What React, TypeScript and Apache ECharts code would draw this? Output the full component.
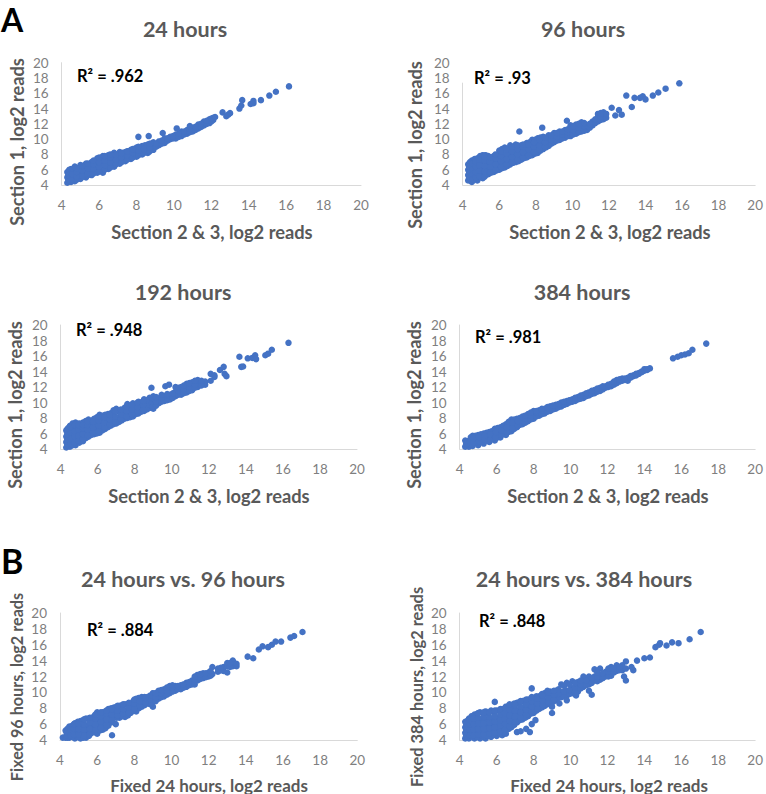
import React, { useEffect, useRef } from "react";
import * as echarts from "echarts";

// Each row: x followed by the y values read at that x.
const hours24: number[][] = [
  [4.3, 4.3, 5.0, 5.7], [4.5, 4.4, 5.1, 5.8, 6.1], [4.7, 4.5, 5.2, 5.9, 6.4], [5.0, 4.8, 5.4, 6.0, 6.6],
  [5.3, 5.0, 5.7, 6.3, 6.8], [5.6, 5.3, 5.9, 6.5, 7.0], [5.9, 5.6, 6.2, 6.8, 7.5], [6.2, 5.6, 6.4, 7.1, 7.8],
  [6.5, 6.1, 6.8, 7.4, 7.9], [6.8, 6.4, 7.0, 7.6, 8.2], [7.1, 6.8, 7.4, 8.0, 8.3], [7.4, 7.1, 7.7, 8.3],
  [7.7, 7.4, 8.0, 8.6], [8.0, 7.7, 8.3, 8.9], [8.3, 8.0, 8.5, 9.1], [8.6, 8.2, 8.8, 9.3], [8.9, 8.6, 9.1, 9.6],
  [9.2, 9.2, 9.7], [9.5, 9.5, 10.1], [9.8, 10.0, 10.3], [10.1, 10.1, 10.6], [10.4, 10.4, 11.0], [10.7, 10.7, 11.2],
  [11.0, 11.0, 11.5], [11.3, 11.4, 11.9], [11.6, 11.8, 12.3], [11.9, 12.1, 12.6], [12.1, 12.5, 12.8],
  [4.4, 4.6, 5.4, 6.0], [4.6, 4.7, 5.5, 6.1], [4.85, 4.9, 5.5, 6.2], [5.15, 5.1, 5.7, 6.3], [5.45, 5.4, 6.0, 6.6],
  [5.75, 5.7, 6.3, 6.9], [6.05, 5.9, 6.5, 7.1], [6.35, 6.1, 6.8, 7.4], [6.65, 6.5, 7.1, 7.7], [6.95, 6.9, 7.5, 8.0],
  [7.25, 7.2, 7.7, 8.2], [7.55, 7.5, 8.0, 8.4], [7.85, 7.8, 8.3, 8.7], [8.15, 8.1, 8.6, 8.9], [8.45, 8.4, 8.8, 9.2],
  [8.75, 8.6, 9.0, 9.4], [9.05, 9.0, 9.4], [9.35, 9.4, 9.8], [9.65, 9.8, 10.1], [9.95, 10.1, 10.4], [10.25, 10.3, 10.7],
  [10.55, 10.6, 11.0], [10.85, 10.9, 11.3], [11.15, 11.2, 11.6], [11.45, 11.6, 12.0], [11.75, 12.0, 12.4], [12.0, 12.3, 12.7],
  [4.35, 4.7, 5.3], [4.55, 4.8, 5.4], [4.8, 4.7, 5.1, 5.7, 6.2], [5.1, 5.2, 5.9, 6.5], [5.4, 5.3, 5.5, 6.2, 6.8],
  [5.7, 5.5, 6.1, 6.7, 7.2], [6.0, 5.8, 6.4, 7.0, 7.6], [6.3, 6.0, 6.6, 7.2, 7.8], [6.6, 6.3, 7.0, 7.6, 8.0], [6.9, 6.7, 7.3, 7.9],
  [7.2, 7.0, 7.6, 8.1], [7.5, 7.3, 7.9, 8.4], [7.8, 7.6, 8.2, 8.7], [8.1, 7.9, 8.5, 9.0], [8.4, 8.2, 8.7], [8.7, 8.4, 8.9, 9.4],
  [8.1, 10.3], [8.65, 10.4], [9.4, 10.8], [10.15, 11.4], [10.85, 11.7], [12.2, 12.9], [12.6, 13.5], [12.8, 13.0],
  [12.9, 13.2], [13.0, 13.4], [13.5, 14.0], [13.6, 14.4], [13.65, 15.1], [14.1, 14.6], [14.25, 14.7, 15.0],
  [14.65, 15.1], [15.1, 15.7], [15.45, 16.2], [16.15, 16.9],
];
const hours96: number[][] = [
  [4.3, 4.6, 5.3, 6.0, 6.7], [4.5, 4.4, 5.1, 5.8, 6.5, 7.2], [4.8, 4.6, 5.3, 6.0, 6.7, 7.5], [5.1, 4.9, 5.6, 6.3, 7.0, 7.9],
  [5.4, 5.4, 6.1, 6.8, 7.8], [5.7, 5.7, 6.4, 7.1, 7.8], [6.0, 6.0, 6.7, 7.4, 8.5], [6.3, 6.3, 7.0, 7.7, 8.9],
  [6.6, 6.7, 7.4, 8.1, 9.2], [6.9, 7.0, 7.6, 8.3, 9.3], [7.2, 7.3, 7.9, 8.6, 9.2], [7.5, 7.6, 8.2, 8.9, 9.5],
  [7.8, 7.9, 8.5, 9.2, 9.9], [8.1, 8.2, 8.8, 9.5, 10.1], [8.4, 8.7, 9.3, 10.3], [8.7, 9.1, 9.7, 10.5],
  [9.0, 9.6, 10.1, 10.8], [9.3, 9.9, 10.5, 11.0], [9.6, 10.2, 10.7, 11.2], [9.9, 10.4, 11.0, 11.8], [10.2, 10.7, 11.3, 11.9],
  [10.5, 11.0, 11.6, 12.2], [10.8, 11.2, 11.8], [11.1, 11.8, 12.3], [11.4, 12.3, 12.9, 13.3], [11.7, 12.6, 13.0, 13.5],
  [4.4, 4.9, 5.6, 6.3, 7.0], [4.65, 4.8, 5.5, 6.2, 6.9, 7.4], [4.95, 5.0, 5.7, 6.4, 7.1, 7.8], [5.25, 5.3, 5.9, 6.6, 7.3, 7.9],
  [5.55, 5.6, 6.3, 7.0, 7.6], [5.85, 5.9, 6.6, 7.3, 7.9], [6.15, 6.2, 6.9, 7.6, 8.2, 8.7], [6.45, 6.5, 7.2, 7.9, 8.6],
  [6.75, 6.9, 7.5, 8.2, 8.9], [7.05, 7.1, 7.8, 8.5, 9.1], [7.35, 7.5, 8.1, 8.8], [7.65, 7.8, 8.4, 9.1, 9.6],
  [7.95, 8.1, 8.7, 9.4, 9.9], [8.25, 8.5, 9.1, 9.8, 10.2], [8.55, 8.9, 9.5, 10.1], [8.85, 9.4, 9.9, 10.5],
  [9.15, 9.8, 10.3, 10.8], [9.45, 10.1, 10.6, 11.0], [9.75, 10.4, 10.9, 11.3], [10.05, 10.6, 11.2, 11.7],
  [10.35, 10.9, 11.5, 12.0], [10.65, 11.1, 11.7, 12.1], [10.95, 11.5, 12.0], [11.25, 12.1, 12.6], [11.55, 12.5, 13.0, 13.4], [11.85, 12.8, 13.3],
  [4.35, 5.0, 5.7, 6.4], [4.55, 4.7, 5.4, 6.1, 6.8], [4.7, 5.0, 5.7, 6.4, 7.1], [4.9, 5.2, 5.9, 6.6, 7.3], [5.2, 5.1, 5.8, 6.5, 7.2, 7.7],
  [5.5, 5.7, 6.4, 7.1, 7.6], [5.8, 6.0, 6.7, 7.5, 8.0], [6.1, 6.4, 7.1, 7.8, 8.4], [6.4, 6.7, 7.4, 8.1, 8.7], [6.7, 7.0, 7.7, 8.4, 9.0],
  [7.0, 7.3, 8.0, 8.7, 9.2], [7.3, 7.6, 8.3, 9.0, 9.3], [7.6, 7.9, 8.6, 9.3], [7.9, 8.3, 9.0, 9.6], [8.2, 8.6, 9.2, 9.9], [8.5, 9.0, 9.6, 10.2],
  [7.1, 11.0], [8.35, 11.5], [9.7, 12.4], [12.15, 14.1], [12.35, 13.1], [12.55, 13.8], [12.7, 13.2], [12.95, 15.7],
  [13.25, 14.2], [13.4, 15.4], [13.7, 15.4], [13.85, 15.6], [14.0, 15.2], [14.4, 15.7], [14.7, 16.1], [15.1, 16.6], [15.85, 17.3],
];
const hours192: number[][] = [
  [4.3, 4.2, 4.9, 5.6, 6.4], [4.5, 4.3, 5.0, 5.7, 6.4, 7.0], [4.8, 4.5, 5.2, 5.9, 6.6, 7.4], [5.2, 5.0, 5.6, 6.3, 7.4],
  [5.5, 5.6, 6.2, 6.9, 7.8], [5.8, 5.9, 6.5, 7.2, 7.9], [6.1, 6.1, 6.8, 7.5, 8.4], [6.4, 6.6, 7.2, 7.8, 8.4],
  [6.7, 7.0, 7.6, 8.6], [7.0, 7.3, 8.0, 9.2], [7.3, 7.7, 8.3, 9.0], [7.6, 8.0, 8.6, 9.8], [7.9, 8.2, 8.9, 9.9],
  [8.2, 8.6, 9.2, 10.1], [8.5, 8.9, 9.5, 10.4], [8.8, 9.3, 9.9, 10.6], [9.0, 9.2, 9.6, 10.3, 10.8], [9.3, 9.9, 10.5],
  [9.6, 10.2, 10.8], [9.9, 10.4, 11.0], [10.2, 10.8, 11.4, 12.0], [10.5, 11.0, 11.6, 12.0], [10.8, 11.3, 11.9, 12.4],
  [11.1, 11.6, 12.2, 12.6], [11.4, 12.0, 12.6, 12.9], [11.8, 12.3, 12.7], [12.1, 12.8, 13.7], [12.3, 13.3, 13.5],
  [4.4, 4.5, 5.3, 6.0, 6.7], [4.65, 4.5, 5.3, 6.0, 6.7, 7.3], [5.0, 4.8, 5.5, 6.2, 6.9, 7.3], [5.35, 5.4, 6.0, 6.6, 7.2, 7.6],
  [5.65, 5.8, 6.4, 7.0, 7.6], [5.95, 6.0, 6.7, 7.4, 8.1], [6.25, 6.4, 7.0, 7.6, 8.3], [6.55, 6.8, 7.4, 8.0, 8.5],
  [6.85, 7.2, 7.8, 8.4, 9.0], [7.15, 7.5, 8.1, 8.8], [7.45, 7.9, 8.5, 9.3], [7.75, 8.1, 8.8, 9.5], [8.05, 8.5, 9.1, 9.7],
  [8.35, 8.8, 9.4, 10.0], [8.65, 9.1, 9.7, 10.3], [8.95, 9.5, 10.1, 10.6], [9.15, 9.6, 10.1, 10.7], [9.45, 10.1, 10.6, 11.0],
  [9.75, 10.3, 10.9, 11.1], [10.05, 10.6, 11.2], [10.35, 11.0, 11.5, 11.9], [10.65, 11.2, 11.7, 12.2], [10.95, 11.5, 12.0, 12.5],
  [11.25, 11.9, 12.3, 12.8], [11.6, 12.2, 12.8],
  [4.35, 4.6, 5.2, 5.9, 6.5], [4.55, 4.7, 5.3, 6.1, 6.8], [4.75, 4.8, 5.6, 6.3, 7.1], [4.95, 5.1, 5.7, 6.5, 7.1], [5.2, 5.3, 5.9, 6.7, 7.1],
  [5.45, 5.8, 6.5, 7.1, 7.6], [5.75, 6.1, 6.8, 7.5], [6.05, 6.3, 7.0, 7.7, 8.2], [6.35, 6.8, 7.4, 8.1], [6.65, 7.2, 7.8, 8.4],
  [6.95, 7.5, 8.2, 8.9], [7.25, 7.9, 8.5, 9.1], [7.55, 8.2, 8.9, 9.5], [7.85, 8.5, 9.1, 9.7], [8.15, 8.8, 9.4, 10.0], [8.45, 9.1, 9.7, 10.2],
  [12.6, 14.2], [12.8, 14.6], [12.85, 13.7], [12.95, 13.4],
  [8.9, 11.9], [9.65, 12.1], [9.85, 12.3], [13.65, 15.9], [13.75, 14.6], [13.85, 14.65], [14.1, 15.7], [14.35, 15.75],
  [14.5, 16.1], [14.55, 15.6], [15.05, 16.1], [15.2, 16.3], [15.4, 16.8], [16.3, 17.7],
];
const hours384: number[][] = [
  [4.3, 4.3, 5.1], [4.5, 4.3, 5.0], [4.7, 4.4, 5.1, 5.7], [5.0, 4.5, 5.2, 5.8], [5.3, 4.7, 5.4, 6.0], [5.6, 4.9, 5.6, 6.2],
  [5.9, 5.1, 5.8, 6.6], [6.2, 5.5, 6.1, 6.8], [6.5, 5.8, 6.5, 7.2], [6.8, 6.3, 7.0, 7.8], [7.1, 6.8, 7.4, 7.9],
  [7.4, 7.2, 7.8, 8.2], [7.7, 7.6, 8.1, 8.5], [8.0, 7.9, 8.4, 8.9], [8.3, 8.3, 8.9, 9.0], [8.6, 8.6, 9.2], [8.9, 8.9, 9.5],
  [9.2, 9.2, 9.7], [9.5, 9.5, 10.0], [9.8, 9.8, 10.2], [10.1, 10.1, 10.4], [10.4, 10.4, 10.7], [10.7, 10.6, 11.0],
  [11.0, 10.9, 11.3], [11.3, 11.2, 11.6], [11.6, 11.5, 11.9], [11.9, 11.9, 12.1], [12.2, 12.1, 12.4], [12.5, 12.5, 12.9],
  [12.8, 12.8, 13.1], [13.1, 12.8, 13.2], [13.4, 13.4, 13.5], [13.7, 13.7, 13.8], [14.0, 14.1, 14.3], [14.3, 14.4],
  [4.4, 4.6, 5.0], [4.6, 4.6, 5.2, 5.5], [4.85, 4.8, 5.4, 5.7], [5.15, 4.9, 5.5, 5.9], [5.45, 5.1, 5.7, 6.1], [5.75, 5.3, 6.0, 6.3],
  [6.05, 5.5, 6.2, 6.7], [6.35, 5.9, 6.5, 7.0], [6.65, 6.2, 6.8, 7.5], [6.95, 6.6, 7.2, 7.8], [7.25, 7.1, 7.6, 8.0],
  [7.55, 7.4, 7.9, 8.3], [7.85, 7.8, 8.3, 8.7], [8.15, 8.2, 8.7, 8.9], [8.45, 8.5, 9.0, 9.2], [8.75, 8.8, 9.2, 9.4],
  [9.05, 9.1, 9.6], [9.35, 9.4, 9.8], [9.65, 9.7, 10.1], [9.95, 10.0, 10.3], [10.25, 10.2, 10.6], [10.55, 10.5, 10.9],
  [10.85, 10.8, 11.2], [11.15, 11.1, 11.5], [11.45, 11.4, 11.8], [11.75, 11.7, 12.1], [12.05, 12.0, 12.3], [12.35, 12.3, 12.7],
  [12.65, 12.7, 13.0], [12.95, 12.9, 13.1], [13.25, 13.2, 13.4], [13.55, 13.5, 13.7], [13.85, 13.9, 14.0], [14.15, 14.2, 14.3],
  [4.35, 4.7], [4.55, 4.9], [4.75, 4.8, 5.4], [5.05, 5.0, 5.5], [5.35, 5.2, 5.7], [5.65, 5.2, 5.9], [5.95, 5.5, 6.2], [6.25, 5.8, 6.4],
  [6.55, 6.2, 6.8], [6.85, 6.7, 7.4], [7.15, 7.1, 7.6],
  [15.55, 15.7], [15.8, 15.9], [16.0, 16.1], [16.2, 16.2], [16.4, 16.35], [16.6, 16.8], [17.35, 17.6],
];
const fixed24v96: number[][] = [
  [4.15, 4.3], [4.3, 4.3, 5.2], [4.5, 4.3, 5.0, 5.7], [4.8, 4.2, 5.0, 5.7, 6.1], [5.1, 4.2, 4.9, 5.6, 6.4], [5.4, 4.3, 5.0, 5.7, 6.7],
  [5.7, 4.9, 5.6, 6.2, 6.8], [6.0, 4.8, 5.5, 6.2, 7.5], [6.3, 5.3, 6.0, 6.7, 7.5], [6.6, 5.8, 6.5, 7.2, 7.9],
  [6.9, 6.8, 7.5, 8.1], [7.2, 6.8, 7.4, 8.3], [7.5, 6.9, 7.6, 8.5], [7.8, 7.4, 8.0, 8.6], [8.1, 7.6, 8.4, 9.2],
  [8.4, 8.2, 8.8, 9.4], [8.7, 8.6, 9.2, 9.4], [9.0, 8.2, 8.9, 9.5, 9.9], [9.3, 9.2, 9.7, 10.2], [9.6, 9.5, 10.0, 10.4],
  [9.9, 9.9, 10.4, 10.8], [10.2, 10.2, 10.8], [10.5, 10.4, 10.9], [10.8, 10.7, 11.2], [11.1, 11.0, 11.5],
  [11.4, 11.5, 12.2], [11.7, 11.8, 12.4], [12.0, 12.0, 12.5], [12.2, 12.3, 13.2], [12.5, 12.6, 13.0], [12.8, 12.7, 13.2],
  [13.0, 12.5, 13.3, 13.7], [13.3, 13.3, 14.0], [13.5, 13.3, 13.6],
  [4.4, 4.3, 4.9, 5.4], [4.65, 4.4, 5.1, 5.8], [4.95, 4.4, 5.1, 5.8, 6.3], [5.25, 4.3, 5.0, 5.7, 6.5], [5.55, 4.5, 5.2, 5.9, 6.7],
  [5.85, 5.0, 5.7, 6.4, 7.0], [6.15, 5.2, 5.9, 6.6, 7.3], [6.45, 5.5, 6.2, 6.9, 7.6], [6.75, 6.2, 6.9, 7.6, 8.0],
  [7.05, 6.8, 7.4, 8.2], [7.35, 7.0, 7.6, 8.4], [7.65, 7.1, 7.8, 8.5], [7.95, 7.7, 8.3, 8.9], [8.25, 8.0, 8.6, 9.3],
  [8.55, 8.4, 9.0, 9.4], [8.85, 8.5, 9.1, 9.6], [9.15, 8.9, 9.4, 9.9], [9.45, 9.4, 9.9, 10.3], [9.75, 9.7, 10.2, 10.6],
  [10.05, 10.1, 10.6, 10.9], [10.35, 10.4, 10.8], [10.65, 10.6, 11.0], [10.95, 10.9, 11.3], [11.25, 11.0, 11.6, 12.0],
  [11.55, 11.7, 12.3], [11.85, 11.9, 12.4], [12.1, 12.1, 12.7], [12.65, 12.8, 13.1], [13.15, 13.2, 13.7],
  [4.35, 4.6, 5.0], [4.55, 4.6, 5.3], [4.75, 4.7, 5.4, 6.0], [5.0, 4.7, 5.4, 6.1], [5.3, 4.6, 5.3, 6.0, 6.6], [5.6, 4.7, 5.4, 6.2, 6.8],
  [5.9, 5.3, 6.0, 6.7, 7.2], [6.2, 5.5, 6.3, 7.0, 7.5], [6.5, 5.9, 6.6, 7.3, 7.7], [6.8, 6.5, 7.2, 7.9], [7.1, 7.1, 7.7, 8.3],
  [7.4, 7.3, 7.9, 8.5], [7.7, 7.4, 8.1, 8.7], [8.0, 8.0, 8.6, 9.1], [8.3, 8.3, 8.9], [8.6, 8.7, 9.3],
  [6.8, 4.6], [7.0, 6.0], [14.1, 14.5], [14.4, 14.3], [14.7, 15.4], [14.9, 15.8], [15.2, 15.7], [15.4, 16.0], [15.6, 16.4],
  [15.9, 16.4], [16.4, 16.9], [16.6, 17.1], [17.05, 17.6],
];
const fixed24v384: number[][] = [
  [4.3, 4.2, 4.9, 5.6, 6.3], [4.5, 4.2, 4.9, 5.6, 6.3, 6.7], [4.8, 4.2, 4.9, 5.6, 6.3, 7.2], [5.1, 4.2, 4.9, 5.6, 6.3, 7.5],
  [5.4, 4.2, 4.9, 5.6, 6.3, 7.6], [5.7, 4.4, 5.1, 5.8, 6.5, 7.7], [6.0, 4.5, 5.2, 5.9, 6.6, 7.7], [6.3, 4.6, 5.3, 6.0, 6.8, 7.9],
  [6.5, 4.8, 5.5, 6.2, 7.0, 8.2], [6.8, 5.6, 6.3, 7.1, 8.4], [7.1, 6.2, 6.9, 7.6, 8.7], [7.4, 6.6, 7.3, 8.0, 8.9],
  [7.7, 7.0, 7.6, 8.3, 9.1], [8.0, 7.4, 8.0, 8.6, 9.3], [8.3, 7.9, 8.6, 9.5], [8.6, 8.3, 8.9, 9.9], [8.9, 8.6, 9.2, 10.1],
  [9.2, 9.0, 9.6, 10.2], [9.5, 9.4, 10.0, 11.0], [9.8, 9.6, 10.2, 11.2], [10.1, 9.9, 10.5, 11.4], [10.4, 10.1, 10.7, 11.3],
  [10.7, 10.7, 11.3, 12.0], [11.0, 11.0, 11.6, 12.0], [11.3, 11.5, 12.0, 12.9], [11.6, 11.6, 12.2, 13.0], [11.9, 12.0, 12.6],
  [12.2, 12.1, 12.8, 13.2], [12.5, 12.7, 13.4], [12.8, 12.8, 13.4], [13.0, 13.0, 13.9],
  [4.4, 4.4, 5.1, 5.8, 6.4], [4.65, 4.5, 5.2, 5.9, 6.6, 7.0], [4.95, 4.4, 5.1, 5.8, 6.5, 7.3], [5.25, 4.5, 5.2, 5.9, 6.6, 7.4],
  [5.55, 4.5, 5.2, 5.9, 6.6, 7.3], [5.85, 4.7, 5.4, 6.1, 6.8, 7.5], [6.15, 4.8, 5.5, 6.2, 6.9, 7.7], [6.4, 5.0, 5.7, 6.4, 7.1, 7.8],
  [6.65, 5.4, 6.0, 6.7, 7.5, 8.3], [6.95, 5.9, 6.6, 7.3, 8.0, 8.6], [7.25, 6.5, 7.2, 7.9, 8.8], [7.55, 6.8, 7.5, 8.2, 9.0],
  [7.85, 7.3, 7.9, 8.6, 9.2], [8.15, 7.7, 8.3, 8.9, 9.5], [8.45, 8.1, 8.7, 9.3, 9.8], [8.75, 8.5, 9.1, 9.7, 10.2],
  [9.05, 8.8, 9.4, 10.0], [9.35, 9.3, 9.8, 10.4], [9.65, 9.5, 10.1, 10.8], [9.95, 9.8, 10.3, 11.0], [10.25, 10.0, 10.6, 11.2],
  [10.55, 10.5, 11.0, 11.5], [10.85, 10.9, 11.5], [11.15, 11.2, 11.8], [11.45, 11.4, 12.0, 12.5], [11.75, 11.8, 12.4],
  [12.05, 12.0, 12.6, 13.0], [12.35, 12.5, 13.0], [12.65, 12.8, 13.2],
  [4.35, 4.6, 5.3, 6.0], [4.55, 4.6, 5.3, 6.0, 6.5], [4.75, 4.6, 5.3, 6.0, 6.7], [5.0, 4.7, 5.4, 6.1, 6.8, 7.4], [5.3, 4.7, 5.4, 6.1, 6.9, 7.5],
  [5.6, 4.8, 5.5, 6.2, 6.9, 7.5], [5.9, 4.9, 5.6, 6.3, 7.0, 7.7], [6.2, 5.1, 5.8, 6.5, 7.2, 7.9], [6.45, 5.3, 6.0, 6.7, 7.4, 8.0],
  [6.7, 5.7, 6.4, 7.1, 7.8, 8.5], [7.0, 6.3, 7.0, 7.7, 8.4], [7.3, 6.8, 7.5, 8.2, 8.9], [7.6, 7.2, 7.8, 8.5, 9.1], [7.9, 7.6, 8.2, 8.9, 9.4],
  [8.2, 8.0, 8.6, 9.2], [8.5, 8.4, 9.0, 9.6], [8.8, 8.8, 9.4, 10.0], [9.1, 9.1, 9.7, 10.2],
  [5.9, 8.8], [7.9, 10.5], [7.1, 5.0], [7.3, 5.1], [7.6, 5.4], [7.8, 5.0], [7.9, 6.0], [8.1, 6.5], [9.0, 7.4, 8.2], [9.4, 8.6],
  [9.8, 9.0], [10.3, 9.6], [11.0, 10.2], [11.15, 9.7], [12.9, 12.0], [13.0, 11.5], [13.4, 12.8], [13.3, 13.2], [13.6, 14.0],
  [14.0, 14.3], [14.3, 14.4], [14.6, 15.7], [14.8, 16.0], [14.85, 16.2], [15.2, 15.9], [15.5, 16.3], [15.85, 16.2], [16.45, 16.7], [17.05, 17.6],
];

const panelData = [hours24, hours96, hours192, hours384, fixed24v96, fixed24v384];
const panelTitles = ["24 hours", "96 hours", "192 hours", "384 hours", "24 hours vs. 96 hours", "24 hours vs. 384 hours"];
const r2Labels = ["R² = .962", "R² = .93", "R² = .948", "R² = .981", "R² = .884", "R² = .848"];
const xNames = ["Section 2 & 3, log2 reads", "Section 2 & 3, log2 reads", "Section 2 & 3, log2 reads", "Section 2 & 3, log2 reads", "Fixed 24 hours, log2 reads", "Fixed 24 hours, log2 reads"];
const yNames = ["Section 1, log2 reads", "Section 1, log2 reads", "Section 1, log2 reads", "Section 1, log2 reads", "Fixed 96 hours, log2 reads", "Fixed 384 hours, log2 reads"];

const layouts = [
  { l: 61.7, r: 361, t: 62.7, b: 185, tx: 185, ty: 29, xx: 212, xy: 232, yx: 17, yy: 142, rx: 77, ry: 76, yf: 18.2, xf: 18.3 },
  { l: 462.7, r: 757, t: 62.7, b: 185, tx: 583, ty: 29, xx: 610, xy: 232, yx: 415, yy: 145, rx: 474, ry: 78, yf: 18.2, xf: 18.3 },
  { l: 60.7, r: 357, t: 325, b: 449, tx: 183, ty: 292, xx: 209, xy: 496, yx: 15, yy: 405, rx: 76, ry: 330, yf: 18.2, xf: 18.3 },
  { l: 459.7, r: 757, t: 325, b: 449, tx: 582, ty: 292, xx: 608, xy: 496, yx: 414, yy: 405, rx: 475, ry: 337, yf: 18.2, xf: 18.3 },
  { l: 60, r: 357.3, t: 613, b: 740, tx: 183, ty: 579, xx: 209, xy: 785, yx: 16, yy: 687, rx: 87, ry: 630, yf: 16.2, xf: 17 },
  { l: 459.7, r: 758, t: 613, b: 740, tx: 584, ty: 579, xx: 609, xy: 785, yx: 416, yy: 687, rx: 479, ry: 621, yf: 16.4, xf: 17 },
];

const FONT = "Lato";
const BLUE = "#4472C4";
const GREY = "#595959";
const W = 766;
const H = 794;

export default function App() {
  const ref = useRef<HTMLDivElement>(null);
  useEffect(() => {
    const chart = echarts.init(ref.current!, undefined, { renderer: "svg" });
    const axis = (gridIndex: number) => ({
      type: "value" as const,
      gridIndex,
      min: 4,
      max: 20,
      interval: 2,
      splitLine: { show: false },
      axisTick: { show: false },
      axisLine: { show: true, onZero: false, lineStyle: { color: "#D9D9D9", width: 1 } },
      axisLabel: { color: "#7F7F7F", fontSize: 13.5, fontFamily: FONT, margin: 13, hideOverlap: false, showMinLabel: true, showMaxLabel: true },
    });
    const graphic: any[] = [
      { type: "text", x: 1, y: 19, style: { text: "A", font: `bold 32px ${FONT}`, fill: "#000", textAlign: "left", textVerticalAlign: "middle" } },
      { type: "text", x: 1, y: 560, style: { text: "B", font: `bold 34px ${FONT}`, fill: "#000", textAlign: "left", textVerticalAlign: "middle" } },
    ];
    layouts.forEach((p, i) => {
      graphic.push(
        { type: "text", x: p.tx, y: p.ty, style: { text: panelTitles[i], font: `bold 21.5px ${FONT}`, fill: GREY, textAlign: "center", textVerticalAlign: "middle" } },
        { type: "text", x: p.xx, y: p.xy, style: { text: xNames[i], font: `bold ${p.xf}px ${FONT}`, fill: GREY, textAlign: "center", textVerticalAlign: "middle" } },
        { type: "text", x: p.yx, y: p.yy, rotation: Math.PI / 2, style: { text: yNames[i], font: `bold ${p.yf}px ${FONT}`, fill: GREY, textAlign: "center", textVerticalAlign: "middle" } },
      );
      if (i === 1) {
        graphic.push({ type: "rect", z: 5, shape: { x: p.l - 3, y: p.t - 1, width: 6, height: 21 }, style: { fill: "#fff" } });
      }
      graphic.push({ type: "text", z: 6, x: p.rx, y: p.ry, style: { text: r2Labels[i], font: `bold 16.5px ${FONT}`, fill: "#000", textAlign: "left", textVerticalAlign: "middle" } });
    });
    chart.setOption({
      animation: false,
      backgroundColor: "#fff",
      grid: layouts.map((p) => ({ left: p.l, top: p.t, width: p.r - p.l, height: p.b - p.t, containLabel: false })),
      xAxis: layouts.map((_, i) => axis(i)),
      yAxis: layouts.map((_, i) => axis(i)),
      series: panelData.map((rows, i) => ({
        type: "scatter",
        name: panelTitles[i],
        xAxisIndex: i,
        yAxisIndex: i,
        symbolSize: 6.5,
        itemStyle: { color: BLUE, opacity: 1 },
        data: rows.flatMap(([x, ...ys]) => ys.map((y) => [x, y])),
      })),
      graphic,
    });
    return () => chart.dispose();
  }, []);
  return <div ref={ref} style={{ position: "absolute", left: 0, top: 0, width: W, height: H }} />;
}
